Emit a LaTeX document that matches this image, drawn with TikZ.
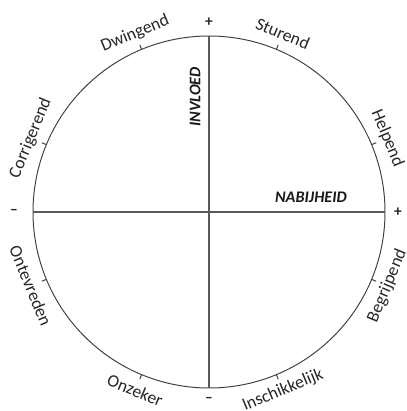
\documentclass[tikz,border=0pt]{standalone}
\usepackage{fontspec}
\setmainfont{Carlito}
\usepackage{tikz}

\tikzset{
  lbl/.style={text=black!85, font=\fontsize{12.5}{14}\selectfont, inner sep=0pt},
  axlbl/.style={text=black!90, font=\fontsize{11.5}{13}\selectfont\bfseries\itshape, inner sep=0pt},
  sgn/.style={text=black!85, font=\fontsize{11}{13}\selectfont\bfseries, inner sep=0pt},
  rim/.style={draw=black!75, line width=0.7pt},
  axis/.style={draw=black!65, line width=0.8pt}
}

\begin{document}
\begin{tikzpicture}[x=0.025cm,y=0.025cm]
  \useasboundingbox (-209,-199) rectangle (197,212);
  % circle and ticks
  \draw[rim] (0,0) circle [radius=176];
  \foreach \a in {22.5,67.5,...,337.5}
    \draw[rim] (\a:176) -- (\a:181);
  % axes
  \coordinate (N) at (90:176);
  \coordinate (S) at (270:176);
  \coordinate (W) at (180:176);
  \coordinate (E) at (0:176);
  \draw[axis] (W) -- (E);
  \draw[axis] (N) -- (S);
  \node[sgn] (plusN) at (0,190) {+};
  \node[sgn] (minS) at (0,-188) {--};
  \node[sgn] (minW) at (-195,0) {--};
  \node[sgn] (plusE) at (189,0) {+};
  \node[axlbl, rotate=90] (invloed) at (-14,115) {INVLOED};
  \node[axlbl] (nabijheid) at (102,15) {NABIJHEID};
  % styles round the circle
  \node[lbl, rotate=-67.5] (helpend) at (22.5:193) {Helpend};
  \node[lbl, rotate=-22.5] (sturend) at (67.5:193) {Sturend};
  \node[lbl, rotate=22.5] (dwingend) at (112.5:193) {Dwingend};
  \node[lbl, rotate=67.5] (corrigerend) at (157.5:193) {Corrigerend};
  \node[lbl, rotate=-67.5] (ontevreden) at (202.5:193) {Ontevreden};
  \node[lbl, rotate=-22.5] (onzeker) at (247.5:193) {Onzeker};
  \node[lbl, rotate=22.5] (inschikkelijk) at (292.5:193) {Inschikkelijk};
  \node[lbl, rotate=67.5] (begrijpend) at (337.5:193) {Begrijpend};
\end{tikzpicture}
\end{document}
